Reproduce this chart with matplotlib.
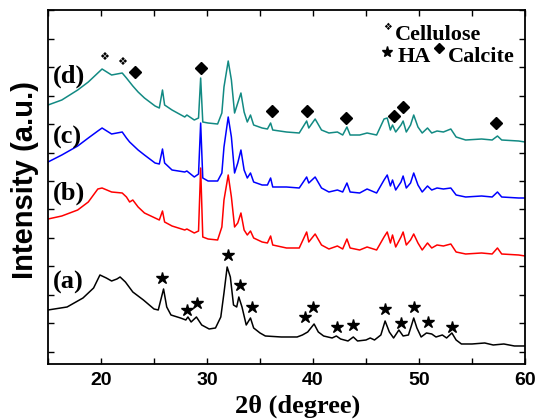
import numpy as np
import matplotlib.pyplot as plt

# shared 2-theta grid for curves (b), (c), (d)
two_theta = [15, 16.3, 17.8, 18.8, 19.7, 20.1, 21.0, 22.0, 22.4, 22.7,
             23.0, 23.5, 24.1, 25.1, 25.5, 25.8, 26.0, 26.7, 27.9, 28.1,
             28.8, 29.2, 29.4, 29.6, 30.1, 31.0, 31.4, 31.6, 32.0, 32.3,
             32.6, 32.9, 33.2, 33.5, 33.8, 34.1, 34.4, 35.2, 35.7, 36.0,
             36.2, 37.5, 38.7, 39.4, 39.6, 40.2, 40.8, 41.5, 42.3, 42.8,
             43.2, 43.5, 44.4, 45.1, 46.0, 46.7, 47.0, 47.3, 47.5, 47.8,
             48.3, 48.5, 48.8, 49.2, 49.5, 49.9, 50.3, 50.8, 51.2, 51.7,
             52.3, 53.0, 53.5, 54.4, 55.9, 56.9, 57.4, 57.8, 59.4, 60]
int_b = [145, 148, 154, 162, 175, 176, 172, 171, 167, 162,
         164, 157, 151, 146, 144, 153, 142, 138, 134, 135,
         131, 133, 196, 127, 125, 124, 137, 164, 189, 167,
         137, 141, 151, 134, 129, 133, 126, 122, 121, 128,
         119, 116, 116, 132, 122, 130, 119, 115, 118, 115,
         125, 116, 114, 117, 114, 127, 132, 121, 129, 117,
         127, 132, 119, 124, 130, 121, 114, 121, 116, 119,
         118, 120, 112, 110, 111, 110, 116, 110, 109, 108]
int_c = [202, 209, 218, 226, 233, 236, 230, 232, 226, 222,
         219, 214, 209, 201, 200, 215, 201, 194, 192, 193,
         187, 190, 241, 186, 183, 183, 191, 217, 247, 227,
         191, 201, 214, 194, 186, 191, 182, 179, 179, 186,
         177, 177, 176, 187, 181, 187, 176, 172, 174, 172,
         181, 172, 171, 175, 171, 184, 189, 178, 184, 174,
         182, 188, 176, 181, 191, 179, 172, 178, 174, 176,
         175, 176, 169, 167, 168, 167, 172, 167, 166, 166]
int_d = [259, 264, 274, 282, 291, 295, 289, 291, 286, 282,
         278, 272, 266, 258, 256, 274, 259, 254, 247, 249,
         244, 246, 286, 242, 241, 240, 251, 277, 303, 284,
         251, 261, 271, 252, 242, 249, 239, 236, 235, 241,
         234, 232, 231, 243, 236, 245, 234, 231, 232, 229,
         237, 229, 229, 231, 229, 245, 246, 234, 239, 232,
         239, 243, 232, 239, 249, 237, 231, 236, 231, 233,
         232, 235, 227, 224, 225, 224, 228, 224, 223, 222]

# curve (a)
two_theta_a = [15, 16.8, 18.3, 19.3, 19.9, 20.5, 21.0, 21.5, 21.8, 22.3,
               23.0, 24.0, 25.0, 25.4, 25.9, 26.2, 26.6, 27.5, 28.0, 28.2,
               28.5, 29.0, 29.5, 30.2, 30.8, 31.3, 31.6, 31.9, 32.2, 32.5,
               32.8, 33.0, 33.3, 33.7, 34.1, 34.4, 35.0, 35.5, 37.0, 38.5,
               39.0, 39.5, 39.8, 40.1, 40.5, 41.0, 41.8, 42.2, 42.6, 43.3,
               43.8, 44.2, 45.0, 45.4, 45.8, 46.4, 46.8, 47.2, 47.6, 48.1,
               48.5, 49.0, 49.3, 49.5, 49.8, 50.2, 50.7, 51.2, 51.6, 52.2,
               52.6, 53.1, 53.5, 54.0, 55.0, 56.2, 57.0, 58.0, 59.0, 60.0]
int_a = [54, 57, 66, 76, 89, 86, 83, 85, 87, 82,
         72, 64, 55, 54, 75, 57, 49, 46, 44, 47,
         42, 47, 39, 35, 36, 47, 71, 97, 87, 59,
         57, 67, 57, 39, 46, 36, 31, 28, 27, 27,
         29, 32, 36, 40, 32, 28, 26, 28, 25, 23,
         27, 23, 24, 26, 24, 29, 43, 32, 26, 34,
         28, 29, 39, 46, 36, 27, 31, 30, 27, 29,
         26, 31, 24, 20, 20, 21, 19, 20, 18, 18]

# phase markers
ha_x = [25.8, 28.1, 29.1, 32.0, 33.1, 34.2, 39.2, 40.0, 42.3, 43.8, 46.8, 48.3, 49.5, 50.8, 53.1]
ha_y = [86, 54, 61, 109, 79, 57, 47, 57, 37, 39, 55, 41, 57, 42, 37]
calcite_x = [23.2, 29.4, 36.1, 39.4, 43.1, 47.6, 48.5, 57.3]
calcite_y = [292, 296, 253, 253, 246, 248, 257, 241]
cellulose_x = [20.3, 22.0]
cellulose_y = [307, 302]

sample_labels = ['(a)', '(b)', '(c)', '(d)']
label_y = [82, 171, 227, 288]

serif = 'Liberation Serif'
sans = 'Liberation Sans'

fig = plt.figure(figsize=(5.37, 4.19), dpi=100)
ax = fig.add_axes([0.0894, 0.1313, 0.8883, 0.8448])

ax.plot(two_theta_a, int_a, color='black', lw=1.1)
ax.plot(two_theta, int_b, color='#ff0000', lw=1.1)
ax.plot(two_theta, int_c, color='#0000ff', lw=1.1)
ax.plot(two_theta, int_d, color='#128a83', lw=1.1)

ax.plot(ha_x, ha_y, ls='none', marker='*', ms=9, color='black')
ax.plot(calcite_x, calcite_y, ls='none', marker='D', ms=6.5, color='black')
for x, y in zip(cellulose_x, cellulose_y):
    ax.text(x, y, '\u2756', fontsize=8, family='DejaVu Sans', ha='center', va='center')

for lab, y in zip(sample_labels, label_y):
    ax.text(15.45, y, lab, fontsize=19, family=serif, fontweight='bold', ha='left', va='center')

# legend: star / diamond as markers, words as text
ax.text(0.711, 0.952, '\u2756', transform=ax.transAxes, fontsize=7, family='DejaVu Sans',
        ha='center', va='center')
ax.plot([0.711], [0.881], ls='none', marker='*', ms=8, color='black',
        transform=ax.transAxes, clip_on=False)
ax.plot([0.820], [0.893], ls='none', marker='D', ms=5.5, color='black',
        transform=ax.transAxes, clip_on=False)
ax.text(0.727, 0.929, 'Cellulose', transform=ax.transAxes, fontsize=16, family=serif,
        fontweight='bold', ha='left', va='center')
ax.text(0.732, 0.867, 'HA', transform=ax.transAxes, fontsize=16, family=serif,
        fontweight='bold', ha='left', va='center')
ax.text(0.839, 0.867, 'Calcite', transform=ax.transAxes, fontsize=16, family=serif,
        fontweight='bold', ha='left', va='center')

ax.set_xlim(15, 60)
ax.set_ylim(0, 354)
ax.set_xticks([20, 30, 40, 50, 60])
ax.set_xticks([15, 25, 35, 45, 55], minor=True)
ax.set_yticks(np.arange(12, 355, 28.5))
ax.set_yticklabels([])
ax.tick_params(which='both', direction='in', top=True, right=True, length=4, width=1.0,
               labelsize=14, pad=6)
for lbl in ax.get_xticklabels():
    lbl.set_fontfamily(sans)
    lbl.set_fontweight('bold')
for sp in ax.spines.values():
    sp.set_linewidth(1.3)

fig.text(0.554, 0.030, '2\u03b8 (degree)', fontsize=19, family=serif, fontweight='bold',
         ha='center', va='center')
fig.text(0.047, 0.570, 'Intensity (a.u.)', fontsize=21, family=sans, fontweight='bold',
         rotation=90, ha='center', va='center')

fig.savefig('out.png', dpi=100)
